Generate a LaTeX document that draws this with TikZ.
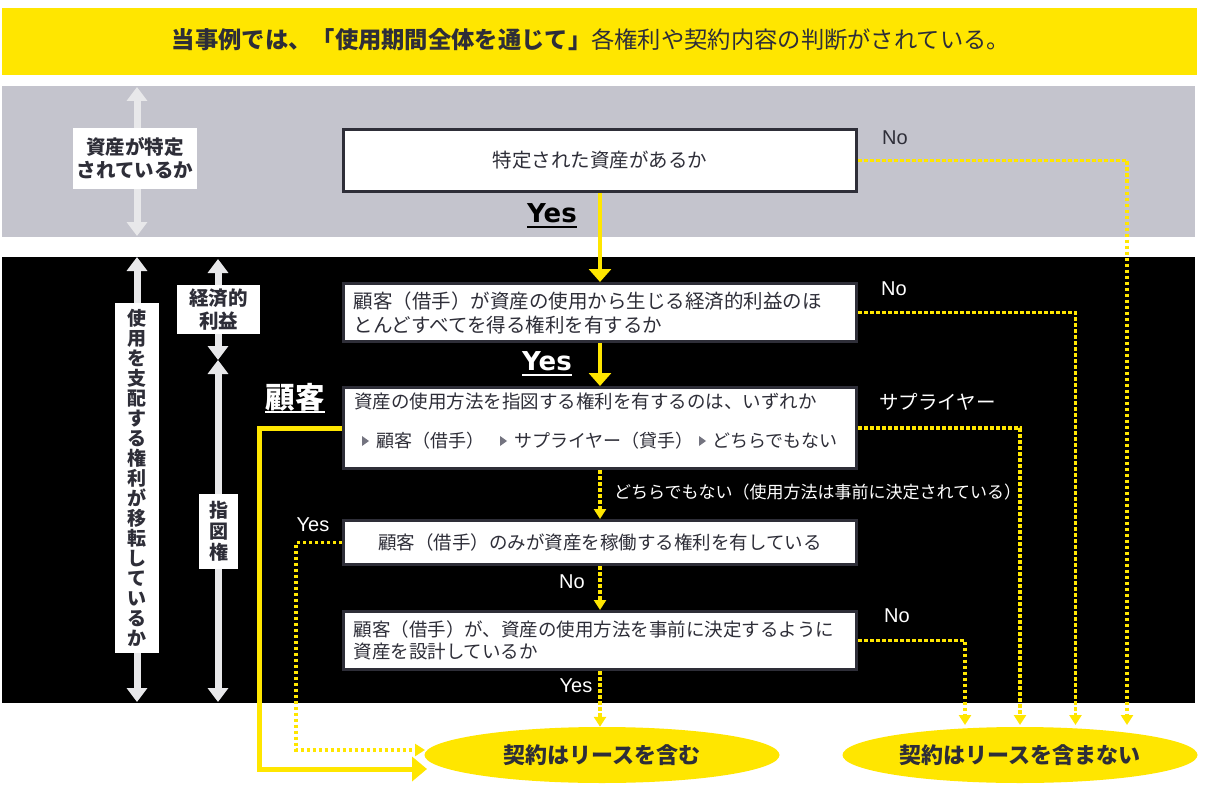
\documentclass[tikz,border=0pt]{standalone}
\usepackage{fontspec}
\setmainfont{Noto Sans CJK JP}
\newfontfamily\latf{Liberation Sans}
\newfontfamily\verf{DejaVu Sans}
\usetikzlibrary{arrows.meta,shapes.geometric}
\definecolor{eyy}{HTML}{FFE600}
\definecolor{bandg}{HTML}{C4C4CD}
\definecolor{bdr}{HTML}{2E2E38}
\definecolor{lg}{HTML}{E8E8EA}
\definecolor{tri}{HTML}{747480}
\begin{document}
\begin{tikzpicture}[x=1pt,y=-1pt,
 qbox/.style={draw=bdr,line width=3pt,fill=white,minimum width=513pt,text=bdr,inner sep=0pt},
 lblbox/.style={fill=white,text=bdr,font=\bfseries\fontsize{19.5}{23}\selectfont,align=center,inner sep=0pt},
 solidarr/.style={draw=eyy,line width=4.5pt,-{Triangle[width=22pt,length=13pt]}},
 bigarr/.style={draw=eyy,line width=5pt,-{Triangle[width=24pt,length=15pt]}},
 dotarr/.style={draw=eyy,line width=3.3pt,dash pattern=on 3.5pt off 2.5pt,-{Triangle[width=12pt,length=10pt]}},
 garr/.style={draw=lg,line width=7pt,{Triangle[width=20pt,length=14pt]}-{Triangle[width=20pt,length=14pt]}},
 wlabel/.style={text=white,inner sep=0pt},
 small/.style={font=\latf\fontsize{20}{20}\selectfont,inner sep=0pt},
 bigyes/.style={font=\verf\bfseries\fontsize{26}{26}\selectfont,inner sep=0pt},
 oval/.style={ellipse,fill=eyy,minimum width=355pt,minimum height=56pt,inner sep=0pt,text=bdr,font=\bfseries\fontsize{22}{22}\selectfont}
]
\useasboundingbox (0,0) rectangle (1205,789);
\fill[white] (0,0) rectangle (1205,789);
% banner
\node[fill=eyy,minimum width=1195pt,minimum height=67pt,inner sep=0pt,anchor=north west] (banner) at (2,8) {};
\node[text=bdr,font=\fontsize{23.3}{23.3}\selectfont,inner sep=0pt] (bannertxt) at (591,40) {\textbf{当事例では、「使用期間全体を通じて」}各権利や契約内容の判断がされている。};
% bands
\fill[bandg] (2,86) rectangle (1195,237);
\fill[black] (2,257) rectangle (1195,703);
% grey double arrows
\coordinate (ga1) at (137,87); \coordinate (ga2) at (137,236);
\coordinate (gb1) at (137,257); \coordinate (gb2) at (137,702);
\coordinate (gc1) at (218,259); \coordinate (gc2) at (218,360); \coordinate (gc3) at (218,702);
\draw[garr] (ga1) -- (ga2);
\draw[garr] (gb1) -- (gb2);
\draw[garr] (gc1) -- (gc2);
\draw[garr] (gc2) -- (gc3);
% label boxes
\node[lblbox,minimum width=124pt,minimum height=60pt] (lab1) at (135,158.5) {資産が特定\\されているか};
\node[lblbox,minimum width=44pt,minimum height=350pt,font=\bfseries\fontsize{19}{20}\selectfont] (lab2) at (137,478) {使\\用\\を\\支\\配\\す\\る\\権\\利\\が\\移\\転\\し\\て\\い\\る\\か};
\node[lblbox,minimum width=83pt,minimum height=49pt] (lab3) at (218.5,309.5) {経済的\\利益};
\node[lblbox,minimum width=39pt,minimum height=75pt,font=\bfseries\fontsize{19}{21}\selectfont] (lab4) at (218.5,531.5) {指\\図\\権};
% question boxes
\node[qbox,minimum height=62pt,font=\fontsize{19.5}{19.5}\selectfont] (b1) at (600,160.5) {特定された資産があるか};
\node[qbox,minimum height=58pt,text width=493pt,align=left,inner xsep=10pt,font=\fontsize{19.5}{24}\selectfont] (b2) at (600,312.5) {顧客（借手）が資産の使用から生じる経済的利益のほ\\とんどすべてを得る権利を有するか};
\node[qbox,minimum height=81pt] (b3) at (600,428) {};
\node[qbox,minimum height=44pt,font=\fontsize{18.5}{18.5}\selectfont] (b4) at (600,542.5) {顧客（借手）のみが資産を稼働する権利を有している};
\node[qbox,minimum height=58pt,text width=493pt,align=left,inner xsep=10pt,font=\fontsize{18.5}{22}\selectfont] (b5) at (600,640.5) {顧客（借手）が、資産の使用方法を事前に決定するように\\資産を設計しているか};
% box 3 contents
\node[anchor=west,text=bdr,inner sep=0pt,font=\fontsize{18.5}{18.5}\selectfont] (b3l1) at (354,401) {資産の使用方法を指図する権利を有するのは、いずれか};
\fill[tri] (362,436) -- (369,441) -- (362,446) -- cycle;
\fill[tri] (500,436) -- (507,441) -- (500,446) -- cycle;
\fill[tri] (699,436) -- (706,441) -- (699,446) -- cycle;
\node[anchor=west,text=bdr,inner sep=0pt,font=\fontsize{18}{18}\selectfont] (opt1) at (376,441) {顧客（借手）};
\node[anchor=west,text=bdr,inner sep=0pt,font=\fontsize{18}{18}\selectfont] (opt2) at (514,441) {サプライヤー（貸手）};
\node[anchor=west,text=bdr,inner sep=0pt,font=\fontsize{18}{18}\selectfont] (opt3) at (712,441) {どちらでもない};
% ellipses
\node[oval] (e1) at (602,755) {契約はリースを含む};
\node[oval] (e2) at (1020,755) {契約はリースを含まない};
% main solid connectors
\draw[solidarr] (b1.south) -- (b2.north);
\draw[solidarr] (b2.south) -- (b3.north);
\coordinate (c3a) at (259.5,428);
\coordinate (c3b) at (427,769);
\draw[bigarr] (b3.west) -- (c3a) |- (c3b);
% dotted connectors
\draw[dotarr] (b3.south) -- (b4.north);
\draw[dotarr] (b4.south) -- (b5.north);
\draw[dotarr] (b5.south) -- (b5.south |- e1.north);
\coordinate (c4a) at (296,542.5);
\coordinate (c4b) at (425,750);
\draw[dotarr] (b4.west) -- (c4a) |- (c4b);
\coordinate (t1) at (1127,725);
\coordinate (t2) at (1075.5,725);
\coordinate (t3) at (1020,725);
\coordinate (t4) at (965,725);
\draw[dotarr] (b1.east) -| (t1);
\draw[dotarr] (b2.east) -| (t2);
\draw[dotarr] (b3.east) -| (t3);
\draw[dotarr] (b5.east) -| (t4);
% labels
\node[bigyes,text=black] (yes1) at (552,213) {Yes};
\draw[black,line width=2pt] ([yshift=-4pt]yes1.south west) -- ([yshift=-4pt]yes1.south east);
\node[bigyes,text=white] (yes2) at (547,361) {Yes};
\draw[white,line width=2pt] ([yshift=-4pt]yes2.south west) -- ([yshift=-4pt]yes2.south east);
\node[wlabel,font=\bfseries\fontsize{29.5}{29.5}\selectfont] (kokyaku) at (295,397) {顧客};
\draw[white,line width=2pt] ([yshift=-1pt]kokyaku.south west) -- ([yshift=-1pt]kokyaku.south east);
\node[small,text=bdr,anchor=west,inner sep=0pt] (no1) at (882,138) {No};
\node[small,wlabel,anchor=west] (no2) at (881,289) {No};
\node[wlabel,anchor=west,font=\fontsize{19.5}{19.5}\selectfont] (sup) at (879,402) {サプライヤー};
\node[wlabel,anchor=west,font=\fontsize{17}{17}\selectfont] (neither) at (614,492) {どちらでもない（使用方法は事前に決定されている）};
\node[small,wlabel] (yes3) at (313,525) {Yes};
\node[small,wlabel] (no3) at (572,582) {No};
\node[small,wlabel] (yes4) at (576,686) {Yes};
\node[small,wlabel,anchor=west] (no4) at (884,616) {No};
\end{tikzpicture}
\end{document}
